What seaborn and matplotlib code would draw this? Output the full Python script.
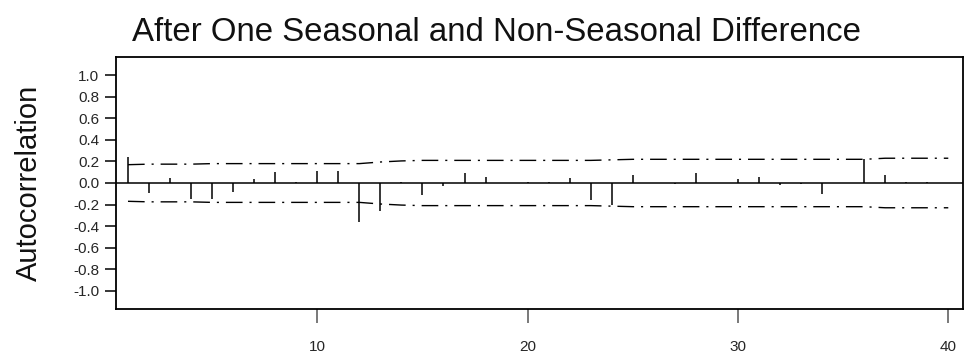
import matplotlib
matplotlib.use("Agg")
import matplotlib.pyplot as plt
import seaborn as sns
import numpy as np

lags = list(range(1, 41))
acf = [0.24, -0.09, 0.05, -0.15, -0.15, -0.08, 0.04, 0.10, 0.01, 0.11,
       0.11, -0.36, -0.26, 0.01, -0.11, -0.03, 0.095, 0.06, 0.0, 0.01,
       0.01, 0.05, -0.16, -0.20, 0.07, 0.0, -0.01, 0.095, 0.0, 0.04,
       0.055, -0.02, -0.01, -0.10, 0.0, 0.22, 0.07, 0.005, 0.01, 0.0]
band = [0.17, 0.175, 0.175, 0.175, 0.18, 0.18, 0.18, 0.18, 0.18, 0.18,
        0.18, 0.18, 0.195, 0.205, 0.21, 0.21, 0.21, 0.21, 0.21, 0.21,
        0.21, 0.21, 0.21, 0.215, 0.22, 0.22, 0.22, 0.22, 0.22, 0.22,
        0.22, 0.22, 0.22, 0.22, 0.22, 0.22, 0.23, 0.23, 0.23, 0.23]
yticks = [1.0, 0.8, 0.6, 0.4, 0.2, 0.0, -0.2, -0.4, -0.6, -0.8, -1.0]
xticks = [10, 20, 30, 40]
title = "After One Seasonal and Non-Seasonal Difference"
ylabel = "Autocorrelation"

sns.set_theme(style="white")
plt.rcParams['font.family'] = ['Liberation Sans', 'DejaVu Sans']

fig = plt.figure(figsize=(9.73, 3.56), dpi=100)
ax = fig.add_axes([116/973, 1-309/356, (963-116)/973, (309-57)/356])

ax.axhline(0, color='black', lw=1.1, zorder=2)
ax.vlines(lags, 0, acf, color='black', lw=1.1, zorder=3)
dash = (0, (12, 5, 1.5, 5))
sns.lineplot(x=lags, y=band, ax=ax, color='black', lw=1.0, linestyle=dash)
sns.lineplot(x=lags, y=[-b for b in band], ax=ax, color='black', lw=1.0, linestyle=dash)

ax.set_xlim(0.43, 40.7)
ax.set_ylim(-1.17, 1.17)
ax.set_xticks(xticks)
ax.set_xticklabels([str(t) for t in xticks], fontsize=11)
ax.set_yticks(yticks)
ax.set_yticklabels([f"{t:.1f}" for t in yticks], fontsize=11)
ax.tick_params(axis='y', direction='out', length=8, width=1.1, color='black', pad=4, left=True)
ax.tick_params(axis='x', direction='out', length=10, width=1.1, color='#555555', pad=12, bottom=True)
ax.set_xlabel("")
ax.set_ylabel("")
for s in ax.spines.values():
    s.set_color('black')
    s.set_linewidth(1.3)

fig.text(496/973, 1-41/356, title, fontsize=23.8, ha='center', va='baseline', color='#111111')
fig.text(29/973, 1-183/356, ylabel, fontsize=21, rotation=90, ha='center', va='center', color='#111111')

fig.savefig("out.png", dpi=100)
